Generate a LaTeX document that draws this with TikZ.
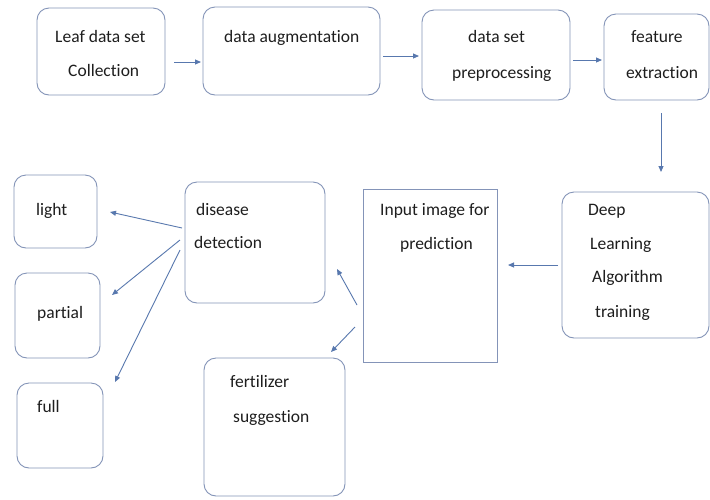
\documentclass[tikz,border=0pt]{standalone}
\usepackage{fontspec}
\setmainfont{Carlito}[Ligatures={NoCommon}]
\usetikzlibrary{arrows.meta}
\definecolor{boxc}{HTML}{8494B8}
\definecolor{arrc}{HTML}{5878AE}
\definecolor{txtc}{HTML}{1E1E1E}
\tikzset{
  box/.style={draw=boxc, line width=0.9pt, rounded corners=12pt, inner sep=0pt, outer sep=0pt},
  sqbox/.style={draw=boxc, line width=0.9pt, inner sep=0pt, outer sep=0pt},
  lbl/.style={anchor=mid west, inner sep=0pt, yshift=-3.5pt, text=txtc, font=\fontsize{17.5}{20}\selectfont},
  arr/.style={draw=arrc, line width=0.9pt, -{Triangle[length=6pt,width=5pt]}}
}
\begin{document}
\begin{tikzpicture}[x=1pt,y=-1pt]
\useasboundingbox[fill=white] (0,0) rectangle (710,499);
% boxes
\node[box, minimum width=128pt, minimum height=87pt] (b1) at (101,51.5) {};
\node[box, minimum width=177pt, minimum height=88pt] (b2) at (291.5,51) {};
\node[box, minimum width=148pt, minimum height=90pt] (b3) at (496,55) {};
\node[box, minimum width=105pt, minimum height=86pt] (b4) at (656.5,57) {};
\node[box, minimum width=147pt, minimum height=146pt] (dl) at (635.5,265) {};
\node[sqbox, minimum width=134pt, minimum height=173pt] (inp) at (430,275.5) {};
\node[box, minimum width=140pt, minimum height=121pt] (dis) at (255,242.5) {};
\node[box, minimum width=141pt, minimum height=138pt] (fer) at (274.5,427) {};
\node[box, minimum width=83pt, minimum height=73pt] (light) at (55.5,211.5) {};
\node[box, minimum width=85pt, minimum height=85pt] (partial) at (57.5,315.5) {};
\node[box, minimum width=86pt, minimum height=85pt] (full) at (60,425.5) {};
% labels
\node[lbl] (t1a) at (55,37) {Leaf data set};
\node[lbl] (t1b) at (68,71) {Collection};
\node[lbl] (t2) at (224,37) {data augmentation};
\node[lbl] (t3a) at (468,37) {data set};
\node[lbl] (t3b) at (452,73) {preprocessing};
\node[lbl] (t4a) at (631,37) {feature};
\node[lbl] (t4b) at (626,73) {extraction};
\node[lbl] (t5a) at (588,210) {Deep};
\node[lbl] (t5b) at (590,244) {Learning};
\node[lbl] (t5c) at (592,277) {Algorithm};
\node[lbl] (t5d) at (595,312) {training};
\node[lbl] (t6a) at (380,210) {Input image for};
\node[lbl] (t6b) at (400,244) {prediction};
\node[lbl] (t7a) at (196,210) {disease};
\node[lbl] (t7b) at (194,243) {detection};
\node[lbl] (t8a) at (230,382) {fertilizer};
\node[lbl] (t8b) at (233,417) {suggestion};
\node[lbl] (t9) at (36,210) {light};
\node[lbl] (t10) at (37,313) {partial};
\node[lbl] (t11) at (37,407) {full};
% arrows
\draw[arr] ([xshift=9pt,yshift=-10.5pt]b1.east) -- ([xshift=-2pt,yshift=-11pt]b2.west);
\draw[arr] ([xshift=3pt,yshift=-5pt]b2.east) -- ([xshift=-3pt,yshift=-1pt]b3.west);
\draw[arr] ([xshift=3pt,yshift=-5pt]b3.east) -- ([xshift=-2pt,yshift=-3pt]b4.west);
\draw[arr] ([xshift=4.5pt,yshift=-13pt]b4.south) -- ([xshift=25.5pt,yshift=20pt]dl.north);
\draw[arr] ([xshift=-4pt]dl.west) -- ([xshift=11pt,yshift=10.5pt]inp.east);
\draw[arr] ([xshift=-6pt,yshift=-29.5pt]inp.west) -- ([xshift=12pt,yshift=-26.5pt]dis.east);
\draw[arr] ([xshift=-8pt,yshift=-51.5pt]inp.west) -- ([xshift=56.5pt,yshift=6pt]fer.north);
\draw[arr] ([xshift=-3pt,yshift=14.5pt]dis.west) -- ([xshift=13pt,yshift=-0.5pt]light.east);
\draw[arr] ([xshift=-5pt,yshift=2.5pt]dis.west) -- ([xshift=12pt,yshift=20.5pt]partial.east);
\draw[arr] ([xshift=-5pt,yshift=-7.5pt]dis.west) -- ([xshift=12pt,yshift=43.5pt]full.east);
\end{tikzpicture}
\end{document}
